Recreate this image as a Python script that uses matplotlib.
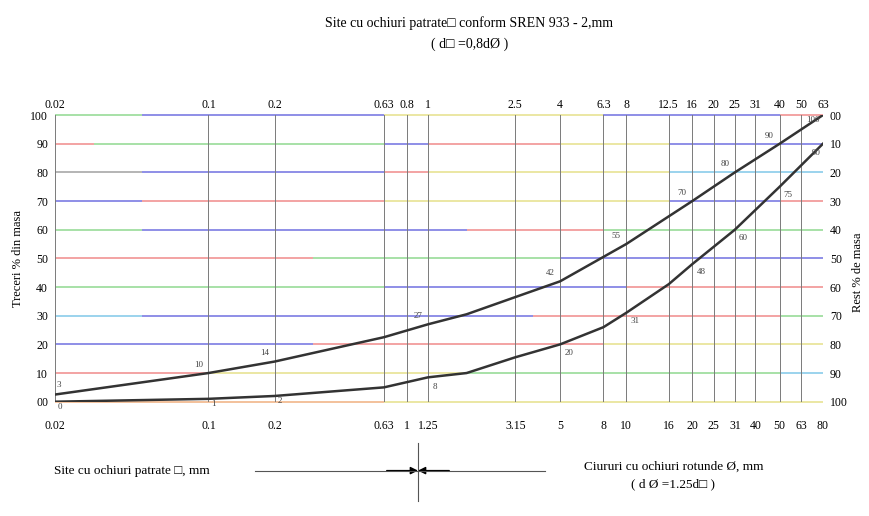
import matplotlib
matplotlib.use('Agg')
import matplotlib.pyplot as plt
import numpy as np

plt.rcParams['font.family'] = ['Liberation Serif', 'DejaVu Sans']

# sieve sizes (square mesh, top axis) and round-hole equivalents (bottom axis)
sq_sizes = [0.02, 0.1, 0.2, 0.63, 0.8, 1, 2.5, 4, 6.3, 8, 12.5, 16, 20, 25, 31, 40, 50, 63]
sq_labels = ["0.02", "0.1", "0.2", "0.63", "0.8", "1", "2.5", "4", "6.3", "8",
             "12.5", "16", "20", "25", "31", "40", "50", "63"]
rd_labels = ["0.02", "0.1", "0.2", "0.63", "1", "1.25", "3.15", "5", "8", "10",
             "16", "20", "25", "31", "40", "50", "63", "80"]

pct_ticks = [0, 10, 20, 30, 40, 50, 60, 70, 80, 90, 100]
left_labels = ["00", "10", "20", "30", "40", "50", "60", "70", "80", "90", "100"]
right_labels = ["100", "90", "80", "70", "60", "50", "40", "30", "20", "10", "00"]

# upper limit curve
up_x = [0.02, 0.1, 0.2, 0.63, 1, 1.5, 2.5, 4, 8, 16, 25, 40, 63]
up_y = [2.5, 10, 14, 22.5, 27, 30.5, 36.5, 42, 55, 70, 80, 90, 100]
# lower limit curve
lo_x = [0.02, 0.1, 0.2, 0.63, 1, 1.5, 2.5, 4, 6.3, 8, 12.5, 16, 25, 40, 63]
lo_y = [0, 1, 2, 5, 8.5, 10, 15.5, 20, 26, 31, 41, 48, 60, 75, 90]

# labelled points
up_lab_x = [0.02, 0.1, 0.2, 1, 4, 8, 16, 25, 40, 63]
up_lab = ["3", "10", "14", "27", "42", "55", "70", "80", "90", "100"]
up_lab_y = [3, 10, 14, 27, 42, 55, 70, 80, 90, 100]
lo_lab_x = [0.02, 0.1, 0.2, 1, 4, 8, 16, 25, 40, 63]
lo_lab = ["0", "1", "2", "8", "20", "31", "48", "60", "75", "90"]
lo_lab_y = [0, 1, 2, 8, 20, 31, 48, 60, 75, 90]

G, B, R, Y, C, K = '#8fd88f', '#7070e0', '#f08a8a', '#e6e08a', '#80c8e8', '#a0a0a0'
# colour segments of each horizontal grid line: (from, to, colour)
grid_segs = {
    100: [(0.02, 0.05, G), (0.05, 0.63, B), (0.63, 6.3, Y), (6.3, 40, B), (40, 63, R)],
    90: [(0.02, 0.03, R), (0.03, 0.63, G), (0.63, 1, B), (1, 4, R), (4, 12.5, Y), (12.5, 63, B)],
    80: [(0.02, 0.05, K), (0.05, 0.63, B), (0.63, 1, R), (1, 12.5, Y), (12.5, 63, C)],
    70: [(0.02, 0.05, B), (0.05, 0.63, R), (0.63, 12.5, Y), (12.5, 40, B), (40, 63, R)],
    60: [(0.02, 0.05, G), (0.05, 1.5, B), (1.5, 6.3, R), (6.3, 63, G)],
    50: [(0.02, 0.3, R), (0.3, 4, G), (4, 63, B)],
    40: [(0.02, 0.63, G), (0.63, 8, B), (8, 63, R)],
    30: [(0.02, 0.05, C), (0.05, 3, B), (3, 40, R), (40, 63, G)],
    20: [(0.02, 0.3, B), (0.3, 6.3, R), (6.3, 63, Y)],
    10: [(0.02, 0.1, R), (0.1, 1.5, Y), (1.5, 40, G), (40, 63, C)],
    0: [(0.02, 0.63, '#f0b080'), (0.63, 63, Y)],
}

fig = plt.figure(figsize=(8.69, 5.16), dpi=100)
ax = fig.add_axes([0.0633, 0.2215, 0.8837, 0.5555])
ax.set_xscale('log')
ax.set_xlim(0.02, 63)
ax.set_ylim(0, 100)

for yv, segs in grid_segs.items():
    for x0, x1, c in segs:
        ax.plot([x0, x1], [yv, yv], color=c, lw=1.1, zorder=1, solid_capstyle='butt',
                clip_on=False)
for xv in sq_sizes:
    ax.axvline(xv, color='#7a7a7a', lw=0.7, zorder=1)

ax.plot(up_x, up_y, color='#333333', lw=1.8, zorder=3)
ax.plot(lo_x, lo_y, color='#333333', lw=1.8, zorder=3)

n = len(up_lab)
for i, (x, y, t) in enumerate(zip(up_lab_x, up_lab_y, up_lab)):
    if i == 0:
        off, ha, va = (1, 3), 'left', 'bottom'
    elif i == n - 1:
        off, ha, va = (-2, -1), 'right', 'top'
    else:
        off, ha, va = (-4, 3), 'right', 'bottom'
    ax.annotate(t, (x, y), xytext=off, textcoords='offset points',
                ha=ha, va=va, fontsize=6.5, color='#444444')
for i, (x, y, t) in enumerate(zip(lo_lab_x, lo_lab_y, lo_lab)):
    if i == len(lo_lab) - 1:
        off, ha = (-2, -4), 'right'
    elif i < 3:
        off, ha = (2, -1), 'left'
    else:
        off, ha = (3, -3), 'left'
    ax.annotate(t, (x, y), xytext=off, textcoords='offset points',
                ha=ha, va='top', fontsize=6.5, color='#444444')

for s in ax.spines.values():
    s.set_visible(False)

ax.set_xticks(sq_sizes)
ax.set_xticklabels(rd_labels, fontsize=8.5)
ax.xaxis.set_minor_locator(matplotlib.ticker.NullLocator())
ax.set_yticks(pct_ticks)
ax.set_yticklabels(left_labels, fontsize=8.5)
ax.tick_params(axis='y', length=0, pad=5)
ax.tick_params(axis='x', length=0, pad=13)

top = ax.secondary_xaxis('top')
top.set_xticks(sq_sizes)
top.set_xticklabels(sq_labels, fontsize=8.5)
top.xaxis.set_minor_locator(matplotlib.ticker.NullLocator())
top.tick_params(length=0, pad=3)
top.spines['top'].set_visible(False)

rax = ax.twinx()
rax.set_ylim(0, 100)
rax.set_yticks(pct_ticks)
rax.set_yticklabels(right_labels, fontsize=8.5)
rax.tick_params(length=0, pad=5)
for s in rax.spines.values():
    s.set_visible(False)

ax.set_ylabel("Treceri % din masa", fontsize=9)
ax.yaxis.set_label_coords(-0.04, 0.5)
rax.set_ylabel("Rest % de masa", fontsize=9, rotation=90)
rax.yaxis.set_label_coords(1.038, 0.45)

fig.text(0.54, 0.955, "Site cu ochiuri patrate\u25a1 conform SREN 933 - 2,mm",
         ha='center', va='center', fontsize=10)
fig.text(0.54, 0.915, "( d\u25a1 =0,8d\u00d8 )", ha='center', va='center', fontsize=10)

# bottom legend with arrows
ly = 0.088
fig.text(0.062, ly, "Site cu ochiuri patrate \u25a1, mm", ha='left', va='center', fontsize=9.5)
fig.add_artist(plt.Line2D([0.293, 0.627], [ly, ly], color='#555555', lw=0.8))
fig.add_artist(plt.Line2D([0.481, 0.481], [0.03, 0.142], color='#555555', lw=0.8))
fig.add_artist(matplotlib.patches.FancyArrowPatch((0.445, ly), (0.481, ly),
               arrowstyle='-|>', mutation_scale=11, color='black', lw=1.0,
               shrinkA=0, shrinkB=0))
fig.add_artist(matplotlib.patches.FancyArrowPatch((0.517, ly), (0.481, ly),
               arrowstyle='-|>', mutation_scale=11, color='black', lw=1.0,
               shrinkA=0, shrinkB=0))
fig.text(0.775, 0.095, "Ciururi cu ochiuri rotunde \u00d8, mm", ha='center', va='center', fontsize=9.5)
fig.text(0.775, 0.062, "( d \u00d8 =1.25d\u25a1 )", ha='center', va='center', fontsize=9.5)

plt.savefig("out.png", dpi=100)
plt.close()
